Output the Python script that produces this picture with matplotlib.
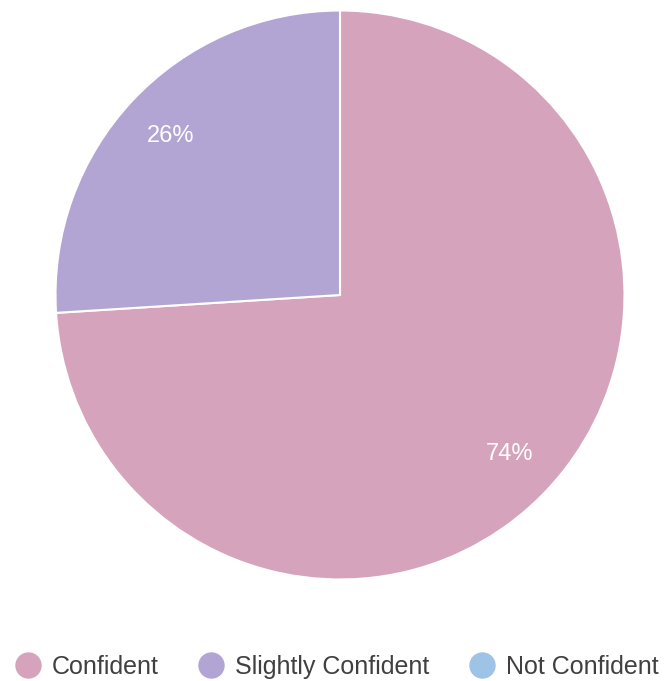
import matplotlib.pyplot as plt
from matplotlib.lines import Line2D

labels = ["Confident", "Slightly Confident", "Not Confident"]
values = [74, 26, 0]
colors = ["#D5A4BC", "#B2A5D4", "#9DC3E6"]

plt.rcParams['font.family'] = ['Liberation Sans', 'DejaVu Sans']

fig = plt.figure(figsize=(6.67, 6.81), dpi=100)
ax = fig.add_axes([55.5 / 667, 101.5 / 681, 569 / 667, 569 / 681])

# skip zero slices in the pie itself, keep them in the legend
shown = [(v, c) for v, c in zip(values, colors) if v > 0]
wedges, texts, autotexts = ax.pie(
    [v for v, c in shown],
    colors=[c for v, c in shown],
    startangle=90,
    counterclock=False,
    radius=1,
    autopct="%d%%",
    pctdistance=0.815,
    wedgeprops=dict(edgecolor="white", linewidth=1.5),
    textprops=dict(color="white", fontsize=17),
)
ax.set_xlim(-1, 1)
ax.set_ylim(-1, 1)
ax.set_aspect("equal")
ax.axis("off")

handles = [Line2D([0], [0], marker="o", linestyle="", markersize=18,
                  markerfacecolor=c, markeredgecolor=c) for c in colors]
fig.legend(handles, labels, loc="center", bbox_to_anchor=(0.505, 1 - 667 / 681),
           ncol=3, frameon=False, fontsize=18, handletextpad=0.46,
           columnspacing=1.6, labelcolor="#404040", handlelength=1.0,
           borderpad=0, borderaxespad=0)

fig.savefig("out.png", dpi=100)
